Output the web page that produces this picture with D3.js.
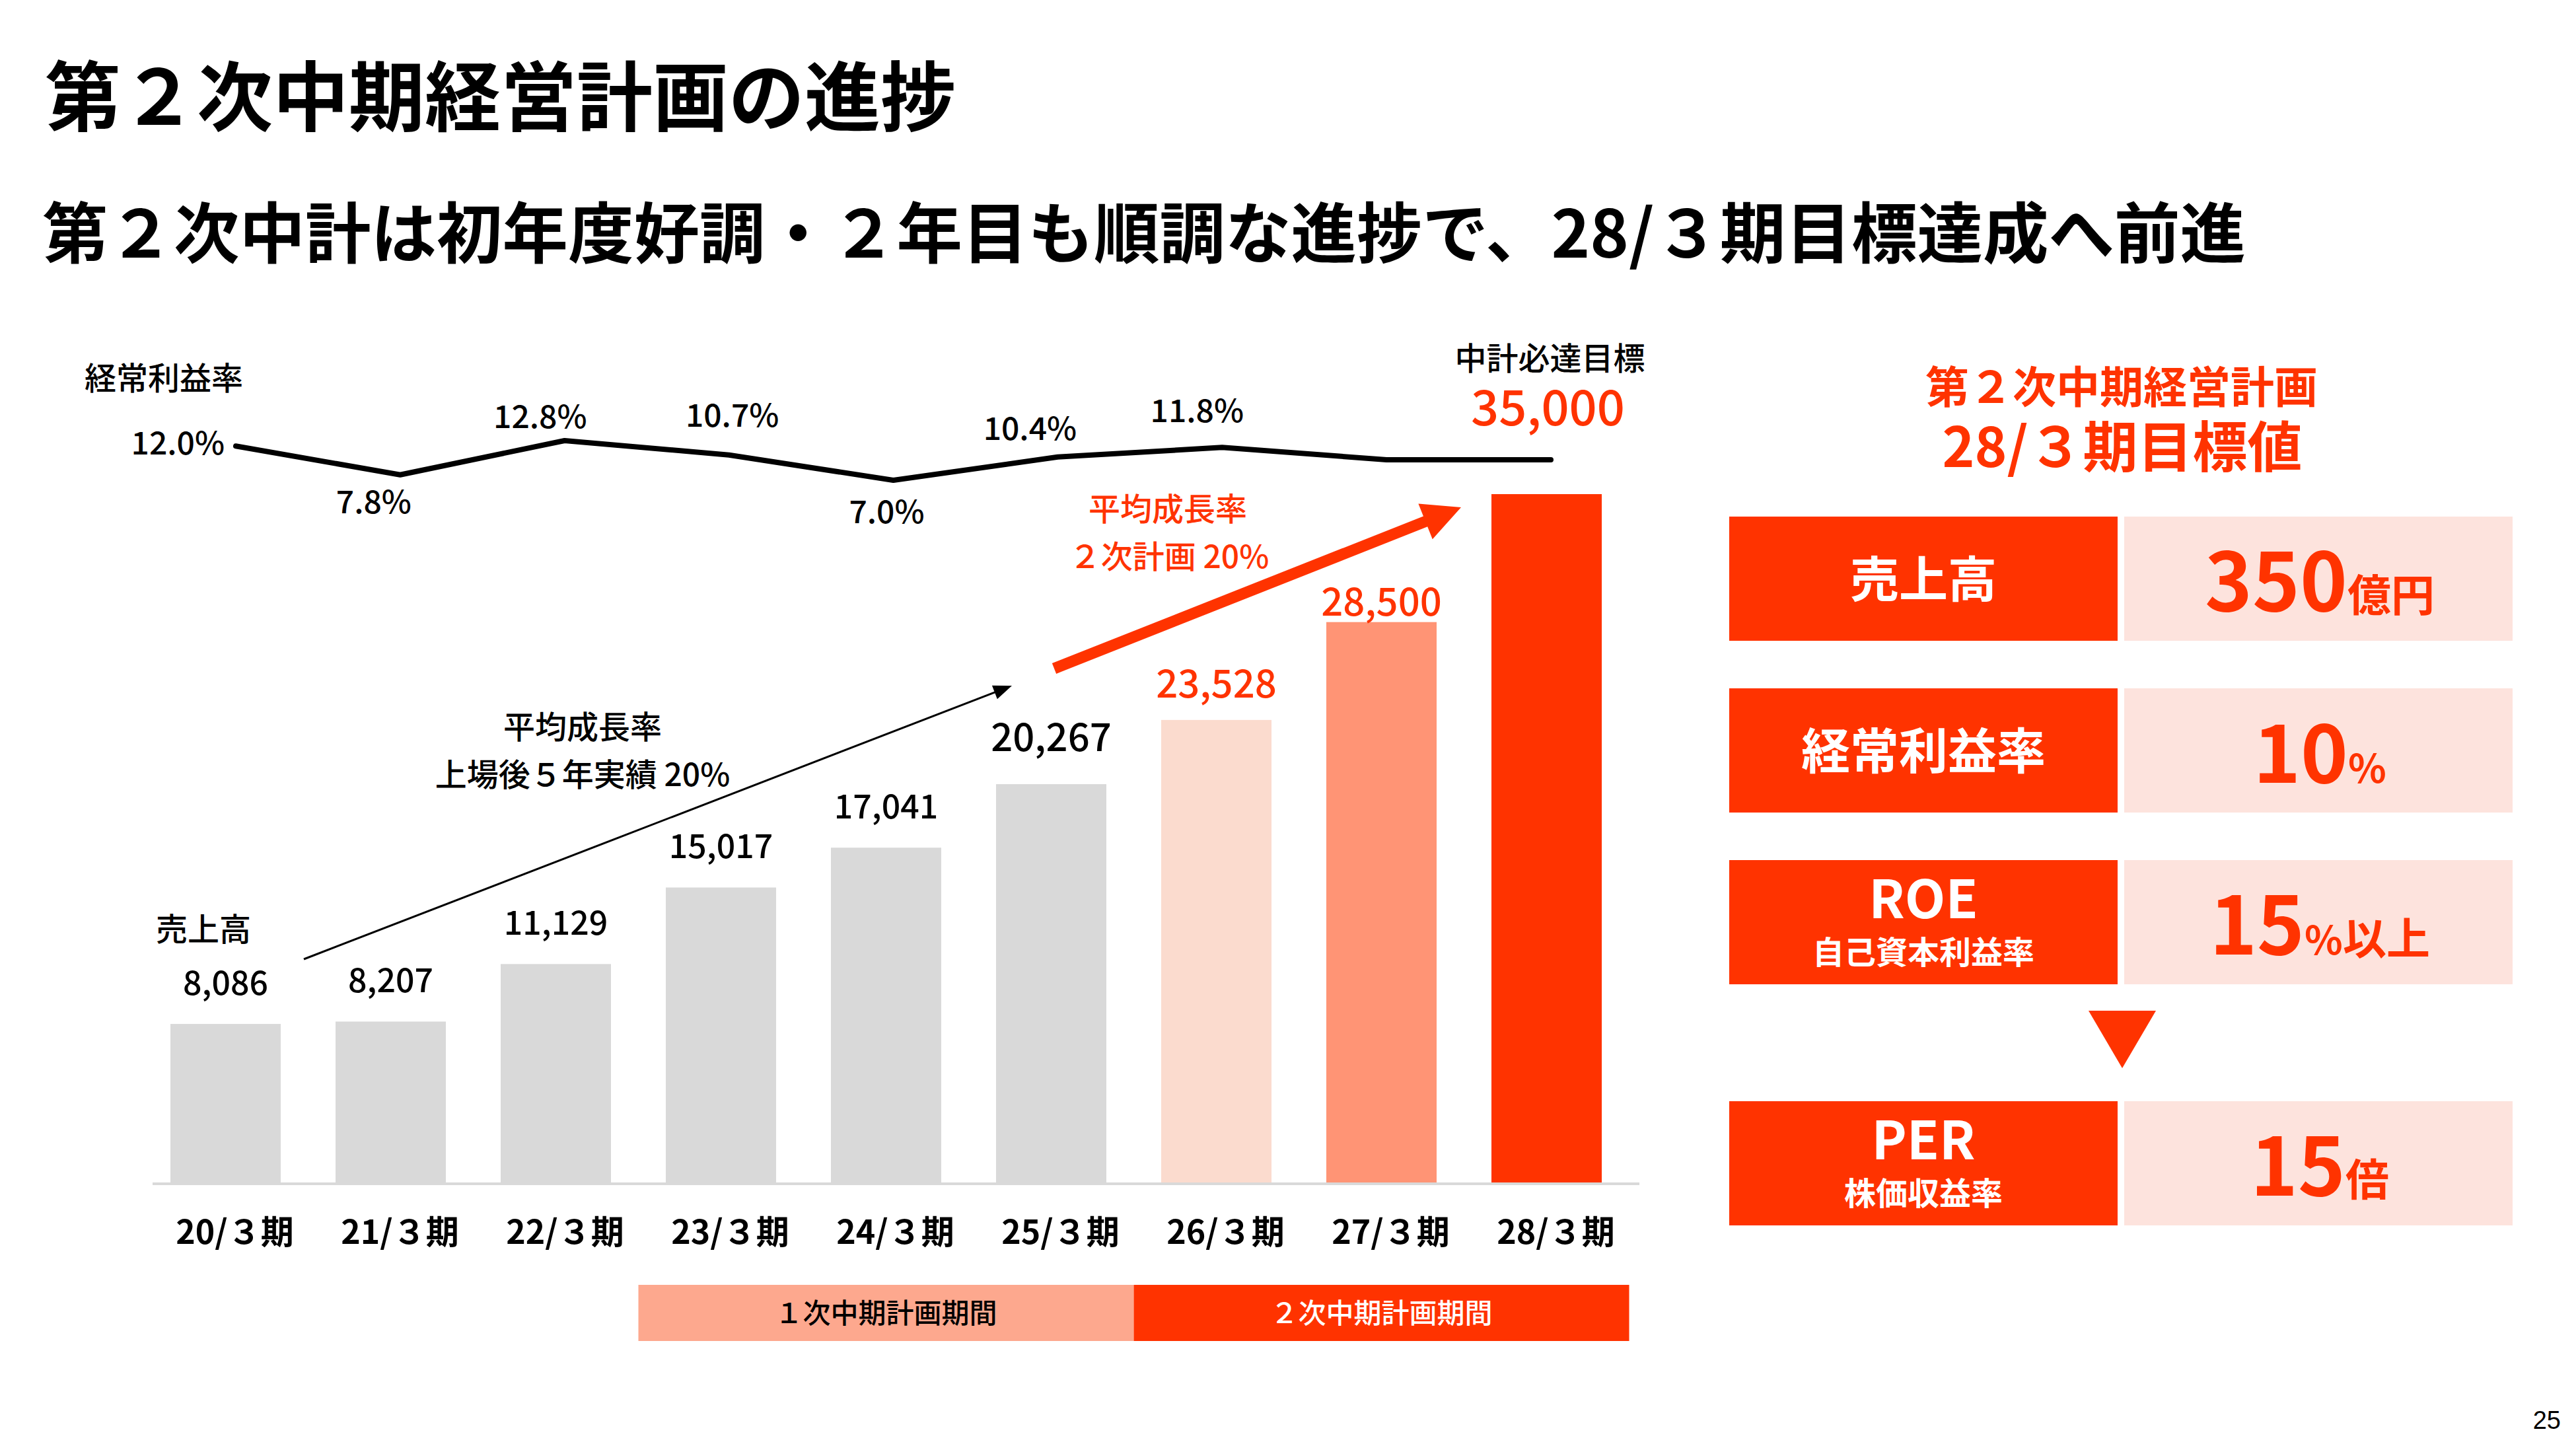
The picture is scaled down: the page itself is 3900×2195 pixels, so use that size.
<!DOCTYPE html>
<html><head><meta charset="utf-8">
<script src="https://cdn.jsdelivr.net/npm/d3@7/dist/d3.min.js"></script>
<style>html,body{margin:0;padding:0;background:#fff;} svg{display:block;}</style>
</head><body>
<script>
// ---------- data ----------
const categories = ["20/３期","21/３期","22/３期","23/３期","24/３期","25/３期","26/３期","27/３期","28/３期"];
const sales = [8086, 8207, 11129, 15017, 17041, 20267, 23528, 28500, 35000];
const rates = [12.0, 7.8, 12.8, 10.7, 7.0, 10.4, 11.8, 10.0, 10.0];
const rateLabels = ["12.0%","7.8%","12.8%","10.7%","7.0%","10.4%","11.8%","",""];
const periodNames = ["１次中期計画期間","２次中期計画期間"];
const periodStart = ["23/３期","26/３期"];
const periodEnd = ["25/３期","28/３期"];
const targetNames = ["売上高","経常利益率","ROE","PER"];
const targetSubs = ["","","自己資本利益率","株価収益率"];
const targetNums = ["350","10","15","15"];
const targetUnits = ["億円","%","%以上","倍"];

// ---------- setup ----------
const W = 3900, H = 2195;
const FONT = "'Noto Sans CJK JP','Noto Sans JP','Noto Sans',sans-serif";
const RED = "#FF3300";
const svg = d3.select("body").append("svg").attr("width", W).attr("height", H)
  .attr("viewBox", `0 0 ${W} ${H}`).style("font-family", FONT);
svg.append("rect").attr("width", W).attr("height", H).attr("fill", "#fff");

// titles
svg.append("text").attr("x", 68).attr("y", 189).attr("font-size", 115).attr("font-weight", 700)
  .attr("fill", "#000").text("第２次中期経営計画の進捗");
svg.append("text").attr("x", 64).attr("y", 390).attr("font-size", 99.5).attr("font-weight", 700)
  .attr("fill", "#000").text("第２次中計は初年度好調・２年目も順調な進捗で、28/３期目標達成へ前進");

// ---------- scales ----------
const x = d3.scaleBand().domain(categories).range([175, 2508]).paddingInner(0.332).paddingOuter(0.332);
const y = d3.scaleLinear().domain([0, 35000]).range([1791, 748]);
const xl = d3.scalePoint().domain(categories).range([357, 2348]);
const yl = d3.scaleLinear().domain([7.0, 12.8]).range([727, 667]);

const barColor = i => i < 6 ? "#D9D9D9" : i === 6 ? "#FBDBCE" : i === 7 ? "#FF9475" : RED;

// bars
svg.append("g").selectAll("rect").data(categories).join("rect")
  .attr("x", d => x(d)).attr("width", x.bandwidth())
  .attr("y", (d, i) => y(sales[i])).attr("height", (d, i) => y(0) - y(sales[i]))
  .attr("fill", (d, i) => barColor(i));

// baseline axis
const xAxis = d3.axisBottom(x).tickSize(0).tickPadding(0);
const ax = svg.append("g").attr("transform", `translate(0,${y(0)})`).call(xAxis);
ax.select(".domain").attr("d", `M231,1H2482`).attr("stroke", "#D9D9D9").attr("stroke-width", 4);
ax.selectAll(".tick text").attr("font-family", FONT).attr("font-size", 50).attr("font-weight", 700)
  .attr("fill", "#000").attr("dy", 0).attr("y", 92).attr("x", 14);

// bar value labels
const labelGap = i => i < 5 ? 44 : i === 5 ? 50 : i === 6 ? 34 : 10;
const labelSize = i => i < 5 ? 50 : 58;
svg.append("g").selectAll("text").data(categories.slice(0, 8)).join("text")
  .attr("x", d => x(d) + x.bandwidth() / 2)
  .attr("y", (d, i) => y(sales[i]) - labelGap(i))
  .attr("text-anchor", "middle").attr("font-size", (d, i) => labelSize(i)).attr("font-weight", 500)
  .attr("fill", (d, i) => i >= 6 ? RED : "#000")
  .text((d, i) => d3.format(",")(sales[i]));

// target label for last bar
const lastC = categories[8];
svg.append("text").attr("x", x(lastC) + x.bandwidth() / 2 + 5).attr("y", 560)
  .attr("text-anchor", "middle").attr("font-size", 48).attr("font-weight", 500).attr("fill", "#000")
  .text("中計必達目標");
svg.append("text").attr("x", x(lastC) + x.bandwidth() / 2 + 2).attr("y", 644)
  .attr("text-anchor", "middle").attr("font-size", 74).attr("font-weight", 500).attr("fill", RED)
  .text(d3.format(",")(sales[8]));

// series labels
svg.append("text").attr("x", 308).attr("y", 1424).attr("text-anchor", "middle")
  .attr("font-size", 48).attr("font-weight", 500).attr("fill", "#000").text("売上高");
svg.append("text").attr("x", 128).attr("y", 590)
  .attr("font-size", 48).attr("font-weight", 500).attr("fill", "#000").text("経常利益率");

// rate line
const line = d3.line().x((d, i) => xl(categories[i])).y(d => yl(d));
svg.append("path").datum(rates).attr("d", line).attr("fill", "none")
  .attr("stroke", "#000").attr("stroke-width", 8).attr("stroke-linejoin", "round").attr("stroke-linecap", "round");

// rate labels (layout nudges per label)
const rateDx = [-17, -40, -37, 5, -10, -42, -38, 0, 0];
const rateDy = [0, -7, 7, -17, 0, 0, -12, 0, 0];
svg.append("g").selectAll("text").data(rates).join("text")
  .each(function (d, i) {
    const t = d3.select(this);
    const px = xl(categories[i]), py = yl(d);
    t.attr("font-size", 48).attr("font-weight", 500).attr("fill", "#000").text(rateLabels[i]);
    if (i === 0) {
      t.attr("x", px + rateDx[i]).attr("y", py + 13).attr("text-anchor", "end");
    } else {
      const isMin = d < rates[i - 1] && (i === rates.length - 1 || d < rates[i + 1]);
      t.attr("x", px + rateDx[i]).attr("text-anchor", "middle")
        .attr("y", (isMin ? py + 48 + 17 : py - 43 + 17) + rateDy[i]);
    }
  });

// arrows (annotations)
function arrow(x1, y1, x2, y2, color, width, headLen, headW) {
  const ang = Math.atan2(y2 - y1, x2 - x1);
  const bx = x2 - headLen * Math.cos(ang), by = y2 - headLen * Math.sin(ang);
  svg.append("line").attr("x1", x1).attr("y1", y1).attr("x2", bx + Math.cos(ang) * 2).attr("y2", by + Math.sin(ang) * 2)
    .attr("stroke", color).attr("stroke-width", width);
  const nx = -Math.sin(ang), ny = Math.cos(ang);
  svg.append("path").attr("fill", color)
    .attr("d", `M${x2},${y2}L${bx + nx * headW / 2},${by + ny * headW / 2}L${bx - nx * headW / 2},${by - ny * headW / 2}Z`);
}
arrow(460, 1452, 1532, 1038, "#000", 3, 28, 22);
arrow(1596, 1012, 2212, 768, RED, 17, 58, 58);

// annotations
svg.append("text").attr("x", 882).attr("y", 1118).attr("text-anchor", "middle")
  .attr("font-size", 48).attr("font-weight", 500).attr("fill", "#000").text("平均成長率");
svg.append("text").attr("x", 882).attr("y", 1190).attr("text-anchor", "middle")
  .attr("font-size", 48).attr("font-weight", 500).attr("fill", "#000").text("上場後５年実績 20%");
svg.append("text").attr("x", 1768).attr("y", 788).attr("text-anchor", "middle")
  .attr("font-size", 48).attr("font-weight", 500).attr("fill", RED).text("平均成長率");
svg.append("text").attr("x", 1770).attr("y", 860).attr("text-anchor", "middle")
  .attr("font-size", 48).attr("font-weight", 500).attr("fill", RED).text("２次計画 20%");

// period bands
const halfGap = x.step() * x.paddingInner() / 2;
const pg = svg.append("g");
periodNames.forEach((p, i) => {
  const x0 = x(periodStart[i]) - halfGap;
  const x1 = x(periodEnd[i]) + x.bandwidth() + halfGap;
  pg.append("rect").attr("x", x0).attr("y", 1945).attr("width", x1 - x0).attr("height", 85)
    .attr("fill", i === 0 ? "#FDA88E" : RED);
  pg.append("text").attr("x", (x0 + x1) / 2).attr("y", 2003).attr("text-anchor", "middle")
    .attr("font-size", 42).attr("font-weight", 500).attr("fill", i === 0 ? "#000" : "#fff").text(p);
});

// ---------- right panel ----------
const colL = 2618, colW = 588, colR = 3216;
svg.append("text").attr("x", 3212).attr("y", 610).attr("text-anchor", "middle")
  .attr("font-size", 66).attr("font-weight", 700).attr("fill", RED).text("第２次中期経営計画");
svg.append("text").attr("x", 3213).attr("y", 707).attr("text-anchor", "middle")
  .attr("font-size", 83).attr("font-weight", 700).attr("fill", RED).text("28/３期目標値");

const rowTop = [782, 1042, 1302, 1667], rowH = 188;
targetNames.forEach((name, i) => {
  const t = rowTop[i], cy = t + rowH / 2;
  svg.append("rect").attr("x", colL).attr("y", t).attr("width", colW).attr("height", rowH).attr("fill", RED);
  svg.append("rect").attr("x", colR).attr("y", t).attr("width", colW).attr("height", rowH).attr("fill", "#FDE3DD");
  const lx = colL + colW / 2;
  if (targetSubs[i]) {
    svg.append("text").attr("x", lx).attr("y", cy - 6).attr("text-anchor", "middle")
      .attr("font-size", 80).attr("font-weight", 700).attr("fill", "#fff").text(name);
    svg.append("text").attr("x", lx).attr("y", cy + 63).attr("text-anchor", "middle")
      .attr("font-size", 48).attr("font-weight", 700).attr("fill", "#fff").text(targetSubs[i]);
  } else {
    svg.append("text").attr("x", lx).attr("y", cy + 28).attr("text-anchor", "middle")
      .attr("font-size", 74).attr("font-weight", 700).attr("fill", "#fff").text(name);
  }
  const vt = svg.append("text").attr("x", colR + colW / 2 + 2).attr("y", cy + 49).attr("text-anchor", "middle")
    .attr("font-weight", 700).attr("fill", RED);
  vt.append("tspan").attr("font-size", 122).text(targetNums[i]);
  Array.from(targetUnits[i]).forEach(ch => {
    vt.append("tspan").attr("font-size", ch === "%" ? 60 : 66).text(ch);
  });
});
// down triangle
svg.append("path").attr("fill", RED).attr("d", "M3162,1530L3264,1530L3213,1617Z");

// page number
svg.append("text").attr("x", 3877).attr("y", 2163).attr("text-anchor", "end")
  .attr("font-family", "'Liberation Sans',Arial,sans-serif").attr("font-size", 38).attr("fill", "#000").text("25");
</script>
</body></html>
